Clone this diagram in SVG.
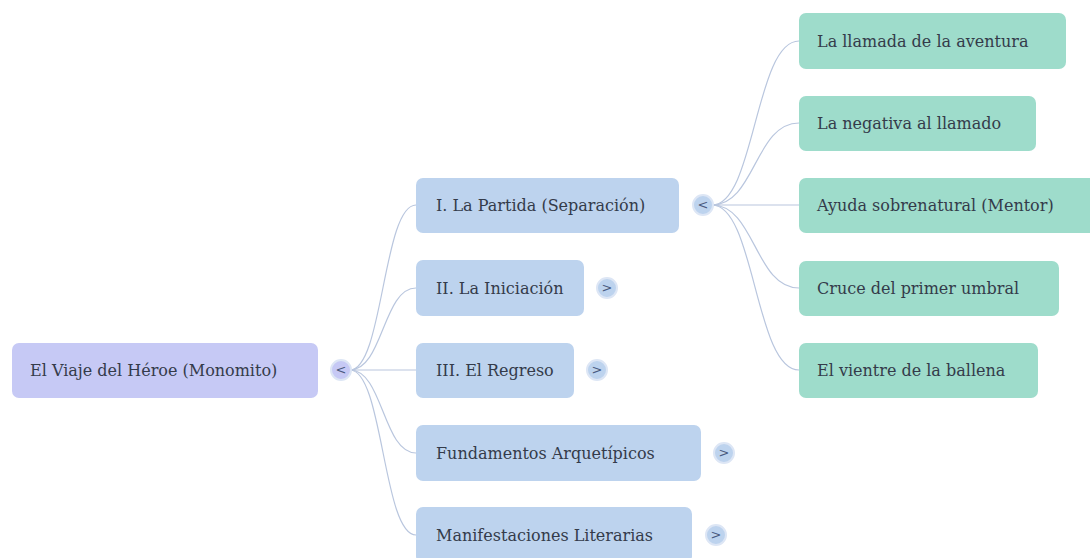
<svg xmlns="http://www.w3.org/2000/svg" width="1090" height="558" viewBox="0 0 1090 558">
<style>
.n rect{rx:7;ry:7}
.root rect{fill:#c6c9f5}
.l1 rect{fill:#bdd3ee}
.l2 rect{fill:#9edccb}
.n text{font-family:'DejaVu Serif',serif;font-size:16px;fill:#343b4a}
.tg circle{stroke:#dde6f5;stroke-width:2}
.tg text{font-family:'DejaVu Sans',sans-serif;font-size:13px;fill:#4a5a80;text-anchor:middle}
.c path{fill:none;stroke:#b9c6de;stroke-width:1.2}
</style>
<rect width="1090" height="558" fill="#ffffff"/>
<g class="c" id="connectors">
<path d="M350 370 C383 370 383 205 416 205"/>
<path d="M350 370 C383 370 383 288 416 288"/>
<path d="M350 370 L416 370"/>
<path d="M350 370 C383 370 383 453 416 453"/>
<path d="M350 370 C383 370 383 535 416 535"/>
<path d="M712 205 C755 205 755 41 799 41"/>
<path d="M712 205 C755 205 755 123 799 123"/>
<path d="M712 205 L799 205"/>
<path d="M712 205 C755 205 755 288 799 288"/>
<path d="M712 205 C755 205 755 370 799 370"/>
</g>
<g class="n root" id="root"><rect x="12" y="343" width="306" height="55"/><text x="30" y="376">El Viaje del Héroe (Monomito)</text></g>
<g class="tg" id="root-toggle"><circle cx="341" cy="370" r="10" fill="#c6c9f5"/><text x="341" y="374">&lt;</text></g>
<g class="n l1" id="partida"><rect x="416" y="178" width="263" height="55"/><text x="436" y="211">I. La Partida (Separación)</text></g>
<g class="tg" id="partida-toggle"><circle cx="703" cy="205" r="10" fill="#bdd3ee"/><text x="703" y="209">&lt;</text></g>
<g class="n l1" id="iniciacion"><rect x="416" y="260" width="168" height="56"/><text x="436" y="294">II. La Iniciación</text></g>
<g class="tg" id="iniciacion-toggle"><circle cx="607" cy="288" r="10" fill="#bdd3ee"/><text x="607" y="292">&gt;</text></g>
<g class="n l1" id="regreso"><rect x="416" y="343" width="158" height="55"/><text x="436" y="376">III. El Regreso</text></g>
<g class="tg" id="regreso-toggle"><circle cx="597" cy="370" r="10" fill="#bdd3ee"/><text x="597" y="374">&gt;</text></g>
<g class="n l1" id="fundamentos"><rect x="416" y="425" width="285" height="56"/><text x="436" y="459">Fundamentos Arquetípicos</text></g>
<g class="tg" id="fundamentos-toggle"><circle cx="724" cy="453" r="10" fill="#bdd3ee"/><text x="724" y="457">&gt;</text></g>
<g class="n l1" id="manifestaciones"><rect x="416" y="507" width="276" height="56"/><text x="436" y="541">Manifestaciones Literarias</text></g>
<g class="tg" id="manifestaciones-toggle"><circle cx="716" cy="535" r="10" fill="#bdd3ee"/><text x="716" y="539">&gt;</text></g>
<g class="n l2" id="llamada"><rect x="799" y="13" width="267" height="56"/><text x="817" y="47">La llamada de la aventura</text></g>
<g class="n l2" id="negativa"><rect x="799" y="96" width="237" height="55"/><text x="817" y="129">La negativa al llamado</text></g>
<g class="n l2" id="ayuda"><rect x="799" y="178" width="300" height="55"/><text x="817" y="211">Ayuda sobrenatural (Mentor)</text></g>
<g class="n l2" id="cruce"><rect x="799" y="261" width="260" height="55"/><text x="817" y="294">Cruce del primer umbral</text></g>
<g class="n l2" id="vientre"><rect x="799" y="343" width="239" height="55"/><text x="817" y="376">El vientre de la ballena</text></g>
</svg>
